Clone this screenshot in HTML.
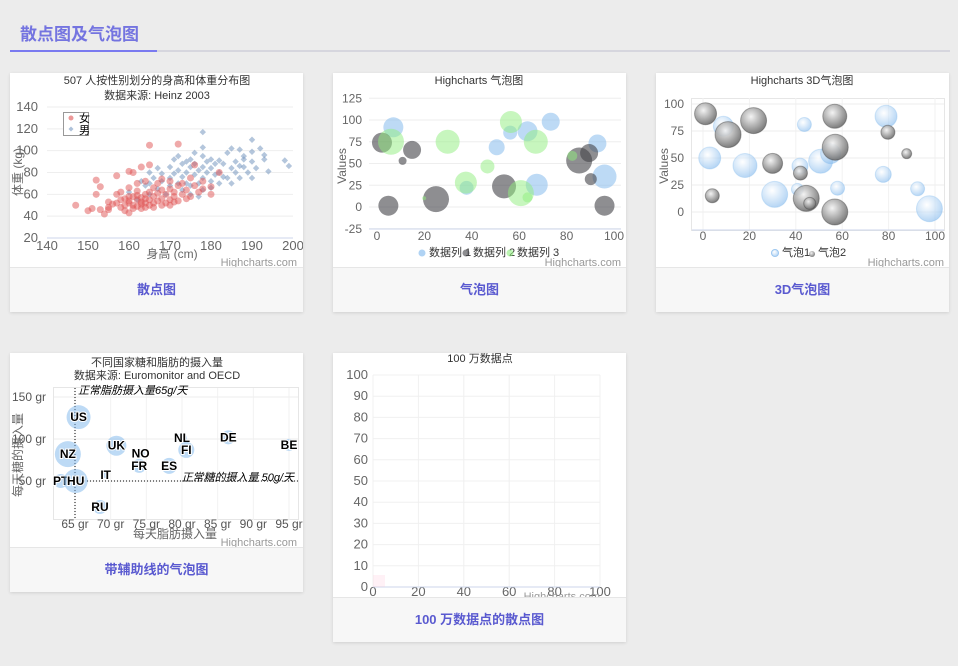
<!DOCTYPE html>
<html><head><meta charset="utf-8">
<style>
body{margin:0;width:958px;height:666px;background:#ececec;font-family:"Liberation Sans","Noto Sans CJK SC",sans-serif;position:relative;overflow:hidden}
.hd{position:absolute;left:20px;top:20px;font-size:17px;font-weight:bold;color:#7474e0}
.ln1{position:absolute;left:10px;top:50px;width:940px;height:2px;background:#d6d6de}
.ln2{position:absolute;left:10px;top:50px;width:147px;height:2px;background:#7a7af0}
.card{position:absolute;background:#fff;box-shadow:0 1px 3px rgba(0,0,0,.12)}
.ft{position:absolute;left:0;right:0;bottom:0;height:44px;background:#f7f7f7;border-top:1px solid #e6e6e6;text-align:center;line-height:44px;font-size:13px;font-weight:bold;color:#5a5ad0}
svg{position:absolute;left:0;top:0}
svg text{font-family:"Liberation Sans","Noto Sans CJK SC",sans-serif}
</style></head><body>
<div class="hd">散点图及气泡图</div>
<div class="ln1"></div>
<div class="ln2"></div>

<div class="card" style="left:10px;top:73px;width:293px;height:239px">
<svg id="c1" width="293" height="195" viewBox="10 73 293 195"></svg>
<div class="ft">散点图</div></div>

<div class="card" style="left:333px;top:73px;width:293px;height:239px">
<svg id="c2" width="293" height="195" viewBox="333 73 293 195"></svg>
<div class="ft">气泡图</div></div>

<div class="card" style="left:656px;top:73px;width:293px;height:239px">
<svg id="c3" width="293" height="195" viewBox="656 73 293 195"></svg>
<div class="ft">3D气泡图</div></div>

<div class="card" style="left:10px;top:353px;width:293px;height:239px">
<svg id="c4" width="293" height="195" viewBox="10 353 293 195"></svg>
<div class="ft">带辅助线的气泡图</div></div>

<div class="card" style="left:333px;top:353px;width:293px;height:289px">
<svg id="c5" width="293" height="245" viewBox="333 353 293 245"></svg>
<div class="ft">100 万数据点的散点图</div></div>

<script>
// ---- data ----
const femaleData=[[147,50],[150,45],[151,47],[152,73],[152,60],[153,46],[153,67],[154,42],[155,48],[155,46],[156,51],[157,60],[157,77],[158,55],[158,48],[158,62],[159,56],[159,45],[160,52],[160,54],[160,43],[160,66],[160,81],[161,50],[161,58],[161,80],[162,55],[162,49],[162,70],[162,63],[163,85],[163,53],[163,57],[163,47],[164,60],[164,52],[164,72],[165,105],[165,87],[165,55],[165,62],[165,50],[166,58],[166,66],[166,52],[167,54],[167,70],[167,61],[168,56],[168,64],[168,74],[169,52],[169,60],[170,72],[170,55],[170,65],[170,50],[171,62],[171,58],[172,106],[172,68],[172,54],[173,60],[173,70],[174,64],[174,56],[175,75],[175,58],[176,68],[176,87],[177,62],[178,65],[178,72],[180,67],[180,60],[182,80],[159,50],[161,47],[163,51],[164,56],[166,48],[157,52],[155,53],[162,59],[168,50],[171,53],[160,58],[164,48]];
const maleData=[[160,62],[162,55],[163,72],[164,68],[165,80],[165,70],[165,60],[166,75],[167,84],[167,65],[168,72],[168,79],[169,60],[170,85],[170,75],[170,68],[171,92],[171,79],[172,70],[172,95],[172,82],[173,88],[173,76],[173,64],[174,90],[174,80],[174,70],[175,85],[175,92],[175,68],[175,60],[176,78],[176,88],[176,98],[177,82],[177,70],[177,58],[178,117],[178,103],[178,95],[178,85],[178,75],[178,64],[179,80],[179,90],[180,92],[180,84],[180,72],[180,66],[181,88],[181,78],[182,91],[182,80],[182,70],[183,76],[183,88],[184,75],[184,98],[185,84],[185,102],[185,70],[186,90],[186,80],[187,101],[187,86],[187,75],[188,95],[188,85],[188,92],[189,80],[190,110],[190,99],[190,90],[190,75],[191,84],[192,102],[193,96],[193,92],[194,81],[198,91],[199,86]];
const c1XTicks=[140,150,160,170,180,190,200];
const c1YTicks=[20,40,60,80,100,120,140];

const b1Series=[[6.9,91.6,10],[50.5,68.7,8],[56.2,85.5,7],[63.5,87,10],[67.4,25.6,11],[73.3,98,9],[93,73,9],[96,35,12],[37.8,22,7]];
const b2Series=[[2.1,74,10],[4.8,1.5,10],[10.8,53,4],[14.8,65.6,9],[24.9,9,13],[53.6,23.7,12],[85.3,53.4,13],[89.5,62,9],[90.2,32,6],[96,1.5,10]];
const b3Series=[[5.9,75,13],[29.8,75,12],[19.9,10,2],[37.5,28,11],[46.6,46.6,7],[56.5,97.7,11],[60.7,16,13],[63.5,11,5],[67,75,12],[82.4,58.8,5]];
const c2XTicks=[0,20,40,60,80,100];
const c2YTicks=[-25,0,25,50,75,100,125];

const d3Bubble1=[[8.8,79.4,10],[2.9,50,11],[18.1,43,12],[30.9,16.3,13],[41.8,42.5,8],[40.7,21,6],[43.7,81,7],[50.7,47,12],[55,54,10],[58,22,7],[78.9,88.6,11],[77.7,34.8,8],[92.5,21.5,7],[97.6,3,13]];
const d3Bubble2=[[1.1,91,11],[10.8,71.7,13],[21.8,84.6,13],[30,45,10],[42,36,7],[4,15,7],[44.5,12.6,13],[46,8,6],[56.8,88.6,12],[57,60,13],[56.8,0,13],[79.7,73.8,7],[87.8,54,5]];
const c3XTicks=[0,20,40,60,80,100];
const c3YTicks=[0,25,50,75,100];

const countryNames=["US","NZ","PT","HU","IT","RU","UK","NO","FR","ES","NL","FI","DE","BE"];
const fatValues=[65.5,64,63,65.1,69.3,68.5,70.8,74.2,74,78.2,80,80.6,86.5,95];
const sugarValues=[126,82,50,50,57,19,92,83,68,68,101,87,102,93];
const sizeValues=[12,13,7,12,3,7,10,4,7,8,5,8,7,6];
const c4XTicks=[65,70,75,80,85,90,95];
const c4YTicks=[50,100,150];

const c5XTicks=[0,20,40,60,80,100];
const c5YTicks=[0,10,20,30,40,50,60,70,80,90,100];

const NS="http://www.w3.org/2000/svg";
function el(svg,tag,attrs,txt){const e=document.createElementNS(NS,tag);for(const k in attrs)e.setAttribute(k,attrs[k]);if(txt!==undefined)e.textContent=txt;svg.appendChild(e);return e;}
function lin(d0,d1,p0,p1){return v=>p0+(v-d0)*(p1-p0)/(d1-d0);}
function label(svg,x,y,t,o){const e=el(svg,'text',Object.assign({x:x,y:y,'font-size':12,fill:'#666','text-anchor':'middle'},o||{}),t);

return e;}
function title(svg,x,y,t){const e=el(svg,'text',{x:x,y:y,'font-size':11,fill:'#333','text-anchor':'middle'},t);

}
function credit(svg,x,y){const e=el(svg,'text',{x:x,y:y,'font-size':11,fill:'#999','text-anchor':'end'},'Highcharts.com');

}
function dot(svg,cx,cy,r,fill,name,stroke){const e=el(svg,'circle',{cx:cx,cy:cy,r:r,fill:fill});if(stroke)e.setAttribute('stroke',stroke);

return e;}

// ---- chart 1 ----
(function(){const s=document.getElementById('c1');
const X=lin(140,200,47,293),Y=lin(20,140,238,107);
title(s,157,84,'507 人按性别划分的身高和体重分布图');
title(s,157,99,'数据来源: Heinz 2003');
c1YTicks.forEach(v=>{if(v>20)el(s,'line',{x1:47,x2:293,y1:Y(v),y2:Y(v),stroke:'#eee'});label(s,38,Y(v)+4,v,{'text-anchor':'end','font-size':13});});
el(s,'line',{x1:47,x2:293,y1:238,y2:238,stroke:'#ccd6eb'});
c1XTicks.forEach(v=>label(s,X(v),250,v,{'font-size':13}));
label(s,172,258,'身高 (cm)',{'font-size':12});
label(s,0,0,'体重 (kg)',{'font-size':12,transform:'translate(22,172) rotate(-90)'});
maleData.forEach(d=>{const e=el(s,'path',{d:`M${X(d[0])} ${Y(d[1])-3.2}l3.2 3.2l-3.2 3.2l-3.2 -3.2z`,fill:'rgba(119,152,191,0.55)'});

});
femaleData.forEach(d=>dot(s,X(d[0]),Y(d[1]),3.5,'rgba(223,83,83,0.5)','female-point'));
el(s,'rect',{x:63.5,y:112.5,width:25,height:23,fill:'#fff',stroke:'#999'});
dot(s,71,118,2.5,'rgba(223,83,83,0.6)','legend-female');
el(s,'path',{d:'M71 126.5l2.5 2.5l-2.5 2.5l-2.5 -2.5z',fill:'rgba(119,152,191,0.6)'});
label(s,79,122,'女',{'text-anchor':'start','font-size':11,fill:'#000'});
label(s,79,134,'男',{'text-anchor':'start','font-size':11,fill:'#000'});
credit(s,297,266);})();

// ---- chart 2 ----
(function(){const s=document.getElementById('c2');
const X=lin(0,100,377,614),Y=lin(0,100,207,120);
title(s,479,84,'Highcharts 气泡图');
c2YTicks.forEach(v=>{el(s,'line',{x1:369,x2:621,y1:Y(v),y2:Y(v),stroke:'#eee'});label(s,362,Y(v)+4,v,{'text-anchor':'end'});});
el(s,'line',{x1:369,x2:621,y1:229,y2:229,stroke:'#ccd6eb'});
c2XTicks.forEach(v=>label(s,X(v),240,v));
label(s,0,0,'Values',{transform:'translate(346,166) rotate(-90)'});
b1Series.forEach(d=>dot(s,X(d[0]),Y(d[1]),d[2],'rgba(124,181,236,0.5)','bubble-series-1'));
b2Series.forEach(d=>dot(s,X(d[0]),Y(d[1]),d[2],'rgba(67,67,72,0.6)','bubble-series-2'));
b3Series.forEach(d=>dot(s,X(d[0]),Y(d[1]),d[2],'rgba(144,238,126,0.5)','bubble-series-3'));
[[422,'rgba(124,181,236,0.6)','数据列 1'],[466,'rgba(67,67,72,0.6)','数据列 2'],[510,'rgba(144,238,126,0.6)','数据列 3']].forEach(l=>{dot(s,l[0],253,3.5,l[1],'legend-marker');label(s,l[0]+7,256,l[2],{'text-anchor':'start','fill':'#333','font-size':11});});
credit(s,621,266);})();

// ---- chart 3 ----
(function(){const s=document.getElementById('c3');
const X=lin(0,100,703,935),Y=lin(0,100,212,104);
const defs=el(s,'defs',{});
defs.innerHTML='<radialGradient id="gb" cx="0.4" cy="0.35" r="0.7"><stop offset="0" stop-color="#fff" stop-opacity="0.6"/><stop offset="1" stop-color="#7cb5ec" stop-opacity="0.6"/></radialGradient><radialGradient id="gg" cx="0.4" cy="0.35" r="0.7"><stop offset="0" stop-color="#f2f2f2" stop-opacity="0.9"/><stop offset="1" stop-color="#666" stop-opacity="0.9"/></radialGradient>';
title(s,802,84,'Highcharts 3D气泡图');
el(s,'rect',{x:691.5,y:98.5,width:253,height:132,fill:'none',stroke:'#e6e6e6'});
c3XTicks.forEach(v=>el(s,'line',{x1:X(v),x2:X(v),y1:98,y2:230,stroke:'#f2f2f2'}));
c3YTicks.forEach(v=>{el(s,'line',{x1:692,x2:944,y1:Y(v),y2:Y(v),stroke:'#eee'});label(s,684,Y(v)+4,v,{'text-anchor':'end'});});
el(s,'line',{x1:692,x2:944,y1:230,y2:230,stroke:'#ccd6eb'});
c3XTicks.forEach(v=>label(s,X(v),240,v));
label(s,0,0,'Values',{transform:'translate(668,166) rotate(-90)'});
d3Bubble1.forEach(d=>dot(s,X(d[0]),Y(d[1]),d[2],'url(#gb)','bubble-3d-series-1','rgba(124,181,236,0.3)'));
d3Bubble2.forEach(d=>dot(s,X(d[0]),Y(d[1]),d[2],'url(#gg)','bubble-3d-series-2','rgba(60,60,60,0.4)'));
dot(s,775,253,3.5,'url(#gb)','legend-marker','#9cc7f0');label(s,782,256,'气泡1',{'text-anchor':'start',fill:'#333','font-size':11});
dot(s,812,254,3,'url(#gg)','legend-marker');label(s,818,256,'气泡2',{'text-anchor':'start',fill:'#333','font-size':11});
credit(s,944,266);})();

// ---- chart 4 ----
(function(){const s=document.getElementById('c4');
const X=lin(65,95,75,289),Y=lin(50,150,481,397);
title(s,157,366,'不同国家糖和脂肪的摄入量');
title(s,157,379,'数据来源: Euromonitor and OECD');
el(s,'rect',{x:53.5,y:387.5,width:245,height:132,fill:'none',stroke:'#e6e6e6'});
c4XTicks.forEach(v=>el(s,'line',{x1:X(v),x2:X(v),y1:388,y2:520,stroke:'#f2f2f2'}));
c4YTicks.forEach(v=>{el(s,'line',{x1:54,x2:298,y1:Y(v),y2:Y(v),stroke:'#eee'});label(s,46,Y(v)+4,v+' gr',{'text-anchor':'end',fill:'#555'});});
c4XTicks.forEach(v=>label(s,X(v),528,v+' gr',{fill:'#555'}));
el(s,'line',{x1:X(65),x2:X(65),y1:388,y2:520,stroke:'#000','stroke-dasharray':'1,2'});
el(s,'line',{x1:54,x2:298,y1:Y(50),y2:Y(50),stroke:'#000','stroke-dasharray':'1,2'});
label(s,78,394,'正常脂肪摄入量65g/天',{'text-anchor':'start','font-style':'italic',fill:'#000','font-size':11});
label(s,294,481,'正常糖的摄入量 50g/天',{'text-anchor':'end','font-style':'italic',fill:'#000','font-size':11});
label(s,175,538,'每天脂肪摄入量');
label(s,0,0,'每天糖的摄入量',{transform:'translate(22,455) rotate(-90)'});
countryNames.forEach((n,i)=>{dot(s,X(fatValues[i]),Y(sugarValues[i]),sizeValues[i],'rgba(124,181,236,0.5)','country-bubble');
const t=el(s,'text',{x:X(fatValues[i]),y:Y(sugarValues[i])+4,'font-size':12,'font-weight':'bold','text-anchor':'middle',fill:'#000',stroke:'#fff','stroke-width':2,'paint-order':'stroke'},n);

});
credit(s,297,546);})();

// ---- chart 5 ----
(function(){const s=document.getElementById('c5');
const X=lin(0,100,373,600),Y=lin(0,100,587,375);
title(s,480,362,'100 万数据点');
c5XTicks.forEach(v=>{el(s,'line',{x1:X(v),x2:X(v),y1:375,y2:587,stroke:'#f0f0f0'});label(s,X(v),596,v,{'font-size':13});});
c5YTicks.forEach(v=>{el(s,'line',{x1:373,x2:600,y1:Y(v),y2:Y(v),stroke:'#f0f0f0'});label(s,368,Y(v)+4,v,{'text-anchor':'end','font-size':13});});
el(s,'line',{x1:373,x2:600,y1:587,y2:587,stroke:'#ccd6eb'});
el(s,'rect',{x:373,y:575,width:12,height:12,fill:'rgba(255,200,220,0.25)'});
credit(s,600,600);})();
</script>
</body></html>
